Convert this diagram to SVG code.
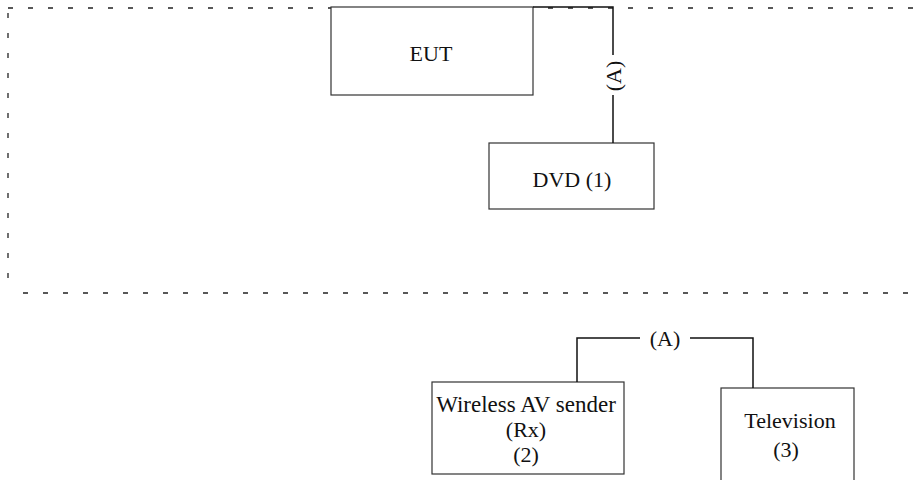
<svg xmlns="http://www.w3.org/2000/svg" width="915" height="480" viewBox="0 0 915 480">
<style>
.box{fill:#fff;stroke:#333;stroke-width:1.2}
.dash{fill:none;stroke:#222;stroke-width:1.3;stroke-dasharray:5 15}
.wire{fill:none;stroke:#111;stroke-width:1.5}
text{font-family:"Liberation Serif","Times New Roman",serif;font-size:22px;fill:#111;text-anchor:middle}
</style>
<rect width="915" height="480" fill="#fff"/>
<g id="boundary">
<line class="dash" x1="8" y1="8" x2="930" y2="8"/>
<line class="dash" x1="8" y1="8" x2="8" y2="293" style="stroke-dashoffset:-5"/>
<line class="dash" x1="23" y1="293" x2="930" y2="293"/>
</g>
<g id="eut">
<rect class="box" x="331" y="7" width="202" height="88"/>
<text x="431" y="61">EUT</text>
</g>
<g id="dvd">
<rect class="box" x="489" y="143" width="165" height="66"/>
<text x="572" y="187">DVD (1)</text>
</g>
<g id="sender">
<rect class="box" x="432" y="382" width="192" height="92"/>
<text x="526" y="412" style="font-size:23px">Wireless AV sender</text>
<text x="526" y="437">(Rx)</text>
<text x="526" y="462">(2)</text>
</g>
<g id="tv">
<rect class="box" x="721" y="388" width="133" height="110"/>
<text x="790" y="428">Television</text>
<text x="786" y="457">(3)</text>
</g>
<g id="connectors">
<path class="wire" d="M533,7 H613 V55 M613,95 V143"/>
<text x="0" y="0" transform="translate(621,76) rotate(-90)">(A)</text>
<path class="wire" d="M577,382 V338 H640 M690,338 H753 V388"/>
<text x="665" y="346">(A)</text>
</g>
</svg>
